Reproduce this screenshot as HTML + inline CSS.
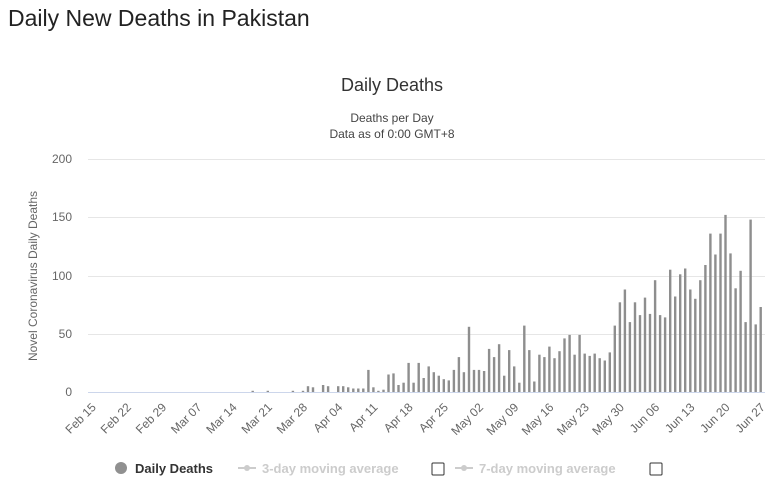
<!DOCTYPE html>
<html><head><meta charset="utf-8"><style>
body{margin:0;background:#fff;width:769px;height:486px;overflow:hidden;font-family:"Liberation Sans",sans-serif}
</style></head><body>
<svg width="769" height="486" xmlns="http://www.w3.org/2000/svg" font-family="Liberation Sans, sans-serif">
<text x="8" y="26" font-size="23" fill="#222">Daily New Deaths in Pakistan</text>
<text x="392" y="91" font-size="18" fill="#333" text-anchor="middle">Daily Deaths</text>
<text x="392" y="122" font-size="12" fill="#444" text-anchor="middle">Deaths per Day</text>
<text x="392" y="138" font-size="12" fill="#444" text-anchor="middle">Data as of 0:00 GMT+8</text>
<text transform="translate(37,276) rotate(-90)" font-size="12" fill="#666" text-anchor="middle">Novel Coronavirus Daily Deaths</text>
<g stroke="#e6e6e6" stroke-width="1">
<line x1="88" x2="765" y1="159.5" y2="159.5"/><line x1="88" x2="765" y1="217.5" y2="217.5"/>
<line x1="88" x2="765" y1="276.5" y2="276.5"/><line x1="88" x2="765" y1="334.5" y2="334.5"/>
</g>
<line x1="88" x2="765" y1="392.5" y2="392.5" stroke="#ccd6eb"/>
<g font-size="12" fill="#666" text-anchor="end">
<text x="72" y="163">200</text><text x="72" y="221">150</text><text x="72" y="280">100</text><text x="72" y="338">50</text><text x="72" y="396">0</text>
</g>
<g id="bars" fill="#8e8e8e"></g>
<g id="xl" font-size="12" fill="#666" text-anchor="end"></g>
<g font-size="13">
<circle cx="121" cy="468" r="6" fill="#909090"/>
<text x="135" y="473" font-weight="bold" fill="#333">Daily Deaths</text>
<line x1="238" x2="256" y1="468" y2="468" stroke="#ccc" stroke-width="2"/><circle cx="247" cy="468" r="3" fill="#ccc"/>
<text x="262" y="473" font-weight="bold" fill="#ccc">3-day moving average</text>
<rect x="432" y="463" width="12" height="12" fill="#fff" stroke="#333" rx="1"/>
<line x1="455" x2="473" y1="468" y2="468" stroke="#ccc" stroke-width="2"/><circle cx="464" cy="468" r="3" fill="#ccc"/>
<text x="479" y="473" font-weight="bold" fill="#ccc">7-day moving average</text>
<rect x="650" y="463" width="12" height="12" fill="#fff" stroke="#333" rx="1"/>
</g>
</svg>
<script>
var v=new Array(135).fill(0);
var pre={33:1,36:1,41:1,43:1,44:5,45:4,47:6,48:5,50:5,51:5,52:4,53:3,54:3};
for(var k in pre)v[k]=pre[k];
var a=[3,19,4,1,2,15,16,6,8,25,8,25,12,22,17,14,11,10,19,30,17,56,19,19,18,37,30,41,14,36,22,8,57,36,9,32,30,39,29,35,46,49];
for(var i=0;i<a.length;i++)v[55+i]=a[i];
var b=[32,49,33,31,33,29,27,34,57,77,88,60,77,66,81,67,96,66,64,105,82,101,106,88,80,96,109,136,118,136,152,119,89,104,60,148,58,73];
for(var i=0;i<b.length;i++)v[97+i]=b[i];
var g=document.getElementById("bars"),s="";
for(var i=0;i<135;i++){if(!v[i])continue;var x=760.7-5.03*(134-i),h=v[i]*1.165;
s+='<rect x="'+(x-1.2).toFixed(1)+'" y="'+(392-h).toFixed(1)+'" width="2.4" height="'+h.toFixed(1)+'"/>';}
g.innerHTML=s;
var L=["Feb 15","Feb 22","Feb 29","Mar 07","Mar 14","Mar 21","Mar 28","Apr 04","Apr 11","Apr 18","Apr 25","May 02","May 09","May 16","May 23","May 30","Jun 06","Jun 13","Jun 20","Jun 27"],t="";
for(var j=0;j<L.length;j++){var x=760.7-5.03*(134-(j*7+1));
t+='<text transform="translate('+(x+5).toFixed(1)+',408) rotate(-45)">'+L[j]+'</text>';}
document.getElementById("xl").innerHTML=t;
</script>
</body></html>
